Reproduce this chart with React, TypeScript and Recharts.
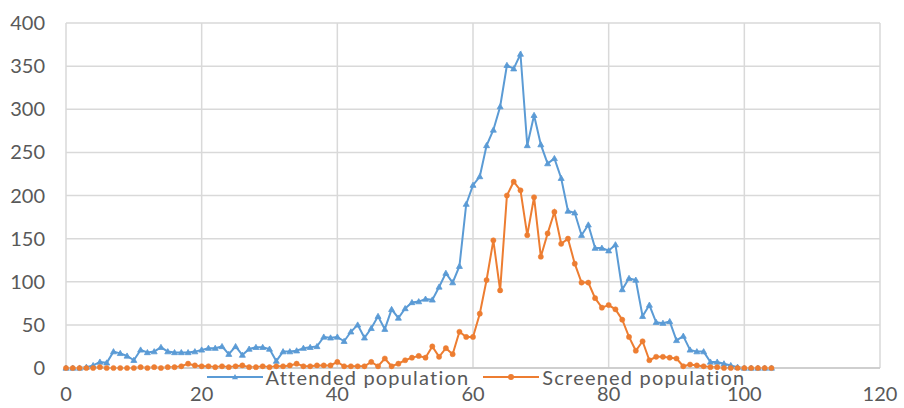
import React from 'react';
import { LineChart, Line, XAxis, YAxis, CartesianGrid } from 'recharts';

// age in years
const ages = [
  0, 1, 2, 3, 4, 5, 6, 7, 8, 9, 10, 11, 12, 13, 14, 15, 16, 17, 18, 19, 20,
  21, 22, 23, 24, 25, 26, 27, 28, 29, 30, 31, 32, 33, 34, 35, 36, 37, 38, 39, 40,
  41, 42, 43, 44, 45, 46, 47, 48, 49, 50, 51, 52, 53, 54, 55, 56, 57, 58, 59, 60,
  61, 62, 63, 64, 65, 66, 67, 68, 69, 70, 71, 72, 73, 74, 75, 76, 77, 78, 79, 80,
  81, 82, 83, 84, 85, 86, 87, 88, 89, 90, 91, 92, 93, 94, 95, 96, 97, 98, 99, 100,
  101, 102, 103, 104,
];

const attended = [
  0, 0, 0, 1, 3, 7, 6, 19, 17, 14, 9, 21, 18, 19, 24, 19, 18, 18, 18, 19, 21,
  23, 23, 25, 16, 25, 15, 22, 24, 24, 22, 8, 19, 19, 20, 23, 24, 25, 36, 35, 36,
  31, 42, 50, 35, 46, 60, 45, 68, 58, 69, 76, 77, 80, 79, 94, 110, 99, 118, 190, 212,
  222, 258, 276, 303, 351, 347, 364, 258, 293, 259, 237, 243, 220, 182, 180, 154, 166, 139, 139, 136,
  143, 91, 104, 102, 60, 73, 53, 52, 54, 32, 37, 21, 19, 19, 7, 7, 5, 3, 1, 0,
  0, 0, 0, 0,
];

const screened = [
  0, 0, 0, 0, 0, 1, 0, 0, 0, 0, 0, 1, 0, 1, 0, 1, 1, 2, 5, 3, 2,
  2, 1, 2, 1, 2, 3, 1, 1, 2, 1, 2, 2, 3, 5, 2, 2, 3, 3, 3, 7,
  2, 2, 2, 2, 7, 2, 11, 2, 5, 9, 12, 14, 12, 25, 13, 23, 16, 42, 36, 36,
  63, 102, 148, 90, 200, 216, 206, 154, 198, 129, 156, 181, 144, 150, 121, 99, 99, 81, 70, 73,
  68, 56, 36, 20, 31, 9, 13, 13, 12, 11, 2, 4, 3, 2, 1, 1, 0, 0, 0, 0,
  0, 0, 0, 0,
];

const xTicks = [0, 20, 40, 60, 80, 100, 120];
const yTicks = [0, 50, 100, 150, 200, 250, 300, 350, 400];

const BLUE = '#5b9bd5';
const ORANGE = '#ed7d31';
const GRID = '#d9d9d9';
const TEXT = '#595959';
const FONT = 'Lato, "Open Sans", sans-serif';

const data = ages.map((age, i) => ({
  age,
  attended: attended[i],
  screened: screened[i],
}));

const TriangleDot = (props: any) => {
  const { cx, cy } = props;
  if (cx == null || cy == null) return null;
  return (
    <path
      d={`M${cx},${cy - 3} L${cx + 3},${cy + 2.2} L${cx - 3},${cy + 2.2} Z`}
      fill={BLUE}
      stroke={BLUE}
      strokeWidth={0.8}
    />
  );
};

const LegendItem = ({ color, label, marker }: { color: string; label: string; marker: 'tri' | 'circle' }) => (
  <div style={{ display: 'flex', alignItems: 'center', gap: 3 }}>
    <svg width={56} height={10}>
      <line x1={0} y1={5} x2={56} y2={5} stroke={color} strokeWidth={2} />
      {marker === 'tri' ? (
        <path d="M28,2 L31,7.2 L25,7.2 Z" fill={color} />
      ) : (
        <circle cx={28} cy={5} r={3} fill={color} />
      )}
    </svg>
    <span>{label}</span>
  </div>
);

// legend sits in the strip between the x axis line and its tick labels
const ChartLegend = () => (
  <div
    style={{
      position: 'absolute',
      left: 66,
      width: 820,
      top: 367,
      display: 'flex',
      justifyContent: 'center',
      gap: 14,
      fontFamily: FONT,
      fontSize: 20,
      letterSpacing: 1.2,
      color: TEXT,
      lineHeight: '20px',
    }}
  >
    <LegendItem color={BLUE} label="Attended population" marker="tri" />
    <LegendItem color={ORANGE} label="Screened population" marker="circle" />
  </div>
);

export default function App() {
  return (
    <div style={{ position: 'absolute', left: 0, top: 0, width: 904, height: 408, background: '#fff' }}>
      <LineChart
        width={904}
        height={408}
        data={data}
        margin={{ top: 23, right: 24, bottom: 0, left: 0 }}
      >
        <CartesianGrid stroke={GRID} strokeWidth={1.5} />
        <XAxis
          dataKey="age"
          type="number"
          domain={[0, 120]}
          ticks={xTicks}
          interval={0}
          height={40}
          axisLine={{ stroke: '#c9c9c9', strokeWidth: 1.5 }}
          tickLine={false}
          tickSize={0}
          tickMargin={19}
          tick={{ fill: TEXT, fontSize: 20, fontFamily: FONT }}
        />
        <YAxis
          type="number"
          domain={[0, 400]}
          ticks={yTicks}
          interval={0}
          width={66}
          axisLine={false}
          tickLine={false}
          tickSize={0}
          tickMargin={21}
          tick={{ fill: TEXT, fontSize: 20, fontFamily: FONT }}
        />
        <Line
          type="linear"
          dataKey="attended"
          stroke={BLUE}
          strokeWidth={2}
          dot={<TriangleDot />}
          activeDot={false}
          isAnimationActive={false}
        />
        <Line
          type="linear"
          dataKey="screened"
          stroke={ORANGE}
          strokeWidth={2}
          dot={{ r: 2.6, fill: ORANGE, stroke: ORANGE, strokeWidth: 0.5 }}
          activeDot={false}
          isAnimationActive={false}
        />
      </LineChart>
      <ChartLegend />
    </div>
  );
}
